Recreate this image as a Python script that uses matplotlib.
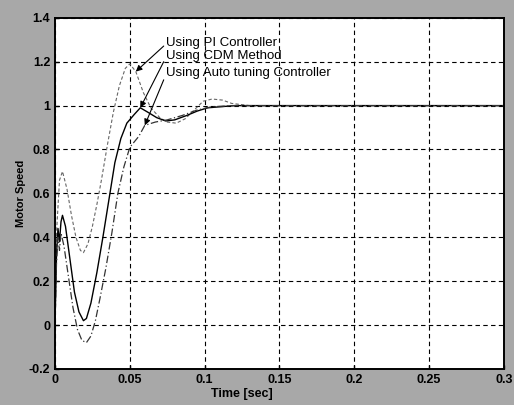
import numpy as np
import matplotlib
matplotlib.use("Agg")
import matplotlib.pyplot as plt

# values
t_pi = [0, 0.001, 0.003, 0.005, 0.008, 0.011, 0.014, 0.017, 0.019, 0.022, 0.025,
        0.028, 0.031, 0.035, 0.039, 0.043, 0.047, 0.050, 0.054, 0.059, 0.064,
        0.070, 0.075, 0.081, 0.087, 0.093, 0.099, 0.105, 0.112, 0.118, 0.13,
        0.15, 0.2, 0.25, 0.3]
y_pi = [0, 0.42, 0.66, 0.70, 0.62, 0.50, 0.40, 0.34, 0.33, 0.37, 0.45,
        0.55, 0.66, 0.82, 0.97, 1.09, 1.17, 1.19, 1.155, 1.06, 0.99,
        0.945, 0.925, 0.92, 0.94, 0.98, 1.02, 1.03, 1.025, 1.01, 1.0,
        1.0, 1.0, 1.0, 1.0]

t_cdm = [0, 0.001, 0.002, 0.003, 0.004, 0.005, 0.007, 0.010, 0.013, 0.016, 0.019,
         0.021, 0.024, 0.028, 0.032, 0.036, 0.040, 0.044, 0.048, 0.053, 0.057,
         0.062, 0.068, 0.074, 0.080, 0.088, 0.095, 0.102, 0.12, 0.15, 0.2, 0.25, 0.3]
y_cdm = [0, 0.32, 0.44, 0.38, 0.47, 0.50, 0.45, 0.30, 0.15, 0.06, 0.02,
         0.03, 0.10, 0.24, 0.40, 0.57, 0.74, 0.85, 0.92, 0.96, 0.99,
         0.97, 0.945, 0.93, 0.935, 0.955, 0.975, 0.99, 1.0, 1.0, 1.0, 1.0, 1.0]

t_auto = [0, 0.001, 0.002, 0.003, 0.004, 0.006, 0.009, 0.012, 0.015, 0.018, 0.021,
          0.024, 0.027, 0.030, 0.034, 0.038, 0.042, 0.046, 0.050, 0.056, 0.060,
          0.067, 0.075, 0.085, 0.095, 0.105, 0.12, 0.15, 0.2, 0.25, 0.3]
y_auto = [0, 0.28, 0.40, 0.34, 0.42, 0.36, 0.22, 0.08, -0.02, -0.07, -0.08,
          -0.05, 0.02, 0.12, 0.26, 0.42, 0.60, 0.72, 0.81, 0.86, 0.91,
          0.925, 0.935, 0.955, 0.98, 0.995, 1.0, 1.0, 1.0, 1.0, 1.0]

labels = ["Using PI Controller", "Using CDM Method", "Using Auto tuning Controller"]
label_xy = [(0.0745, 1.283), (0.0745, 1.225), (0.0745, 1.148)]
arrow_tips = [(0.054, 1.155), (0.057, 0.99), (0.060, 0.91)]

xticks = [0, 0.05, 0.1, 0.15, 0.2, 0.25, 0.3]
xtick_labels = ["0", "0.05", "0.1", "0.15", "0.2", "0.25", "0.3"]
yticks = [-0.2, 0, 0.2, 0.4, 0.6, 0.8, 1, 1.2, 1.4]
ytick_labels = ["-0.2", "0", "0.2", "0.4", "0.6", "0.8", "1", "1.2", "1.4"]

plt.rcParams["font.family"] = ["Liberation Sans", "DejaVu Sans"]

fig = plt.figure(figsize=(5.14, 4.05), dpi=100, facecolor="#a8a8a8")
ax = fig.add_axes([0.107, 0.089, 0.8735, 0.867])
ax.set_facecolor("white")

ax.plot(t_pi, y_pi, color="#666666", lw=0.8, linestyle=(0, (3, 2)))
ax.plot(t_cdm, y_cdm, color="black", lw=1.0)
ax.plot(t_auto, y_auto, color="#333333", lw=0.9, linestyle=(0, (6, 2, 1, 2)))

for txt, xy, tip in zip(labels, label_xy, arrow_tips):
    ax.annotate(txt, xy=tip, xytext=xy, fontsize=9.5, va="center", ha="left",
                arrowprops=dict(arrowstyle="-|>", color="black", lw=0.8,
                                mutation_scale=9, shrinkA=0, shrinkB=0,
                                relpos=(0, 0.5)))

ax.set_xlim(0, 0.3)
ax.set_ylim(-0.2, 1.4)
ax.set_xticks(xticks)
ax.set_xticklabels(xtick_labels)
ax.set_yticks(yticks)
ax.set_yticklabels(ytick_labels)
ax.tick_params(labelsize=9, direction="in", length=3, width=1)
for lab in ax.get_xticklabels() + ax.get_yticklabels():
    lab.set_fontweight("bold")

ax.grid(True, color="black", linestyle=(0, (4, 3)), lw=0.8)
for s in ax.spines.values():
    s.set_linewidth(1.4)

ax.set_xlabel("Time [sec]", fontsize=9, fontweight="bold", labelpad=0)
ax.xaxis.set_label_coords(0.416, -0.055)
ax.set_ylabel("Motor Speed", fontsize=8, fontweight="bold", labelpad=2)

fig.savefig("out.png", dpi=100, facecolor=fig.get_facecolor())
